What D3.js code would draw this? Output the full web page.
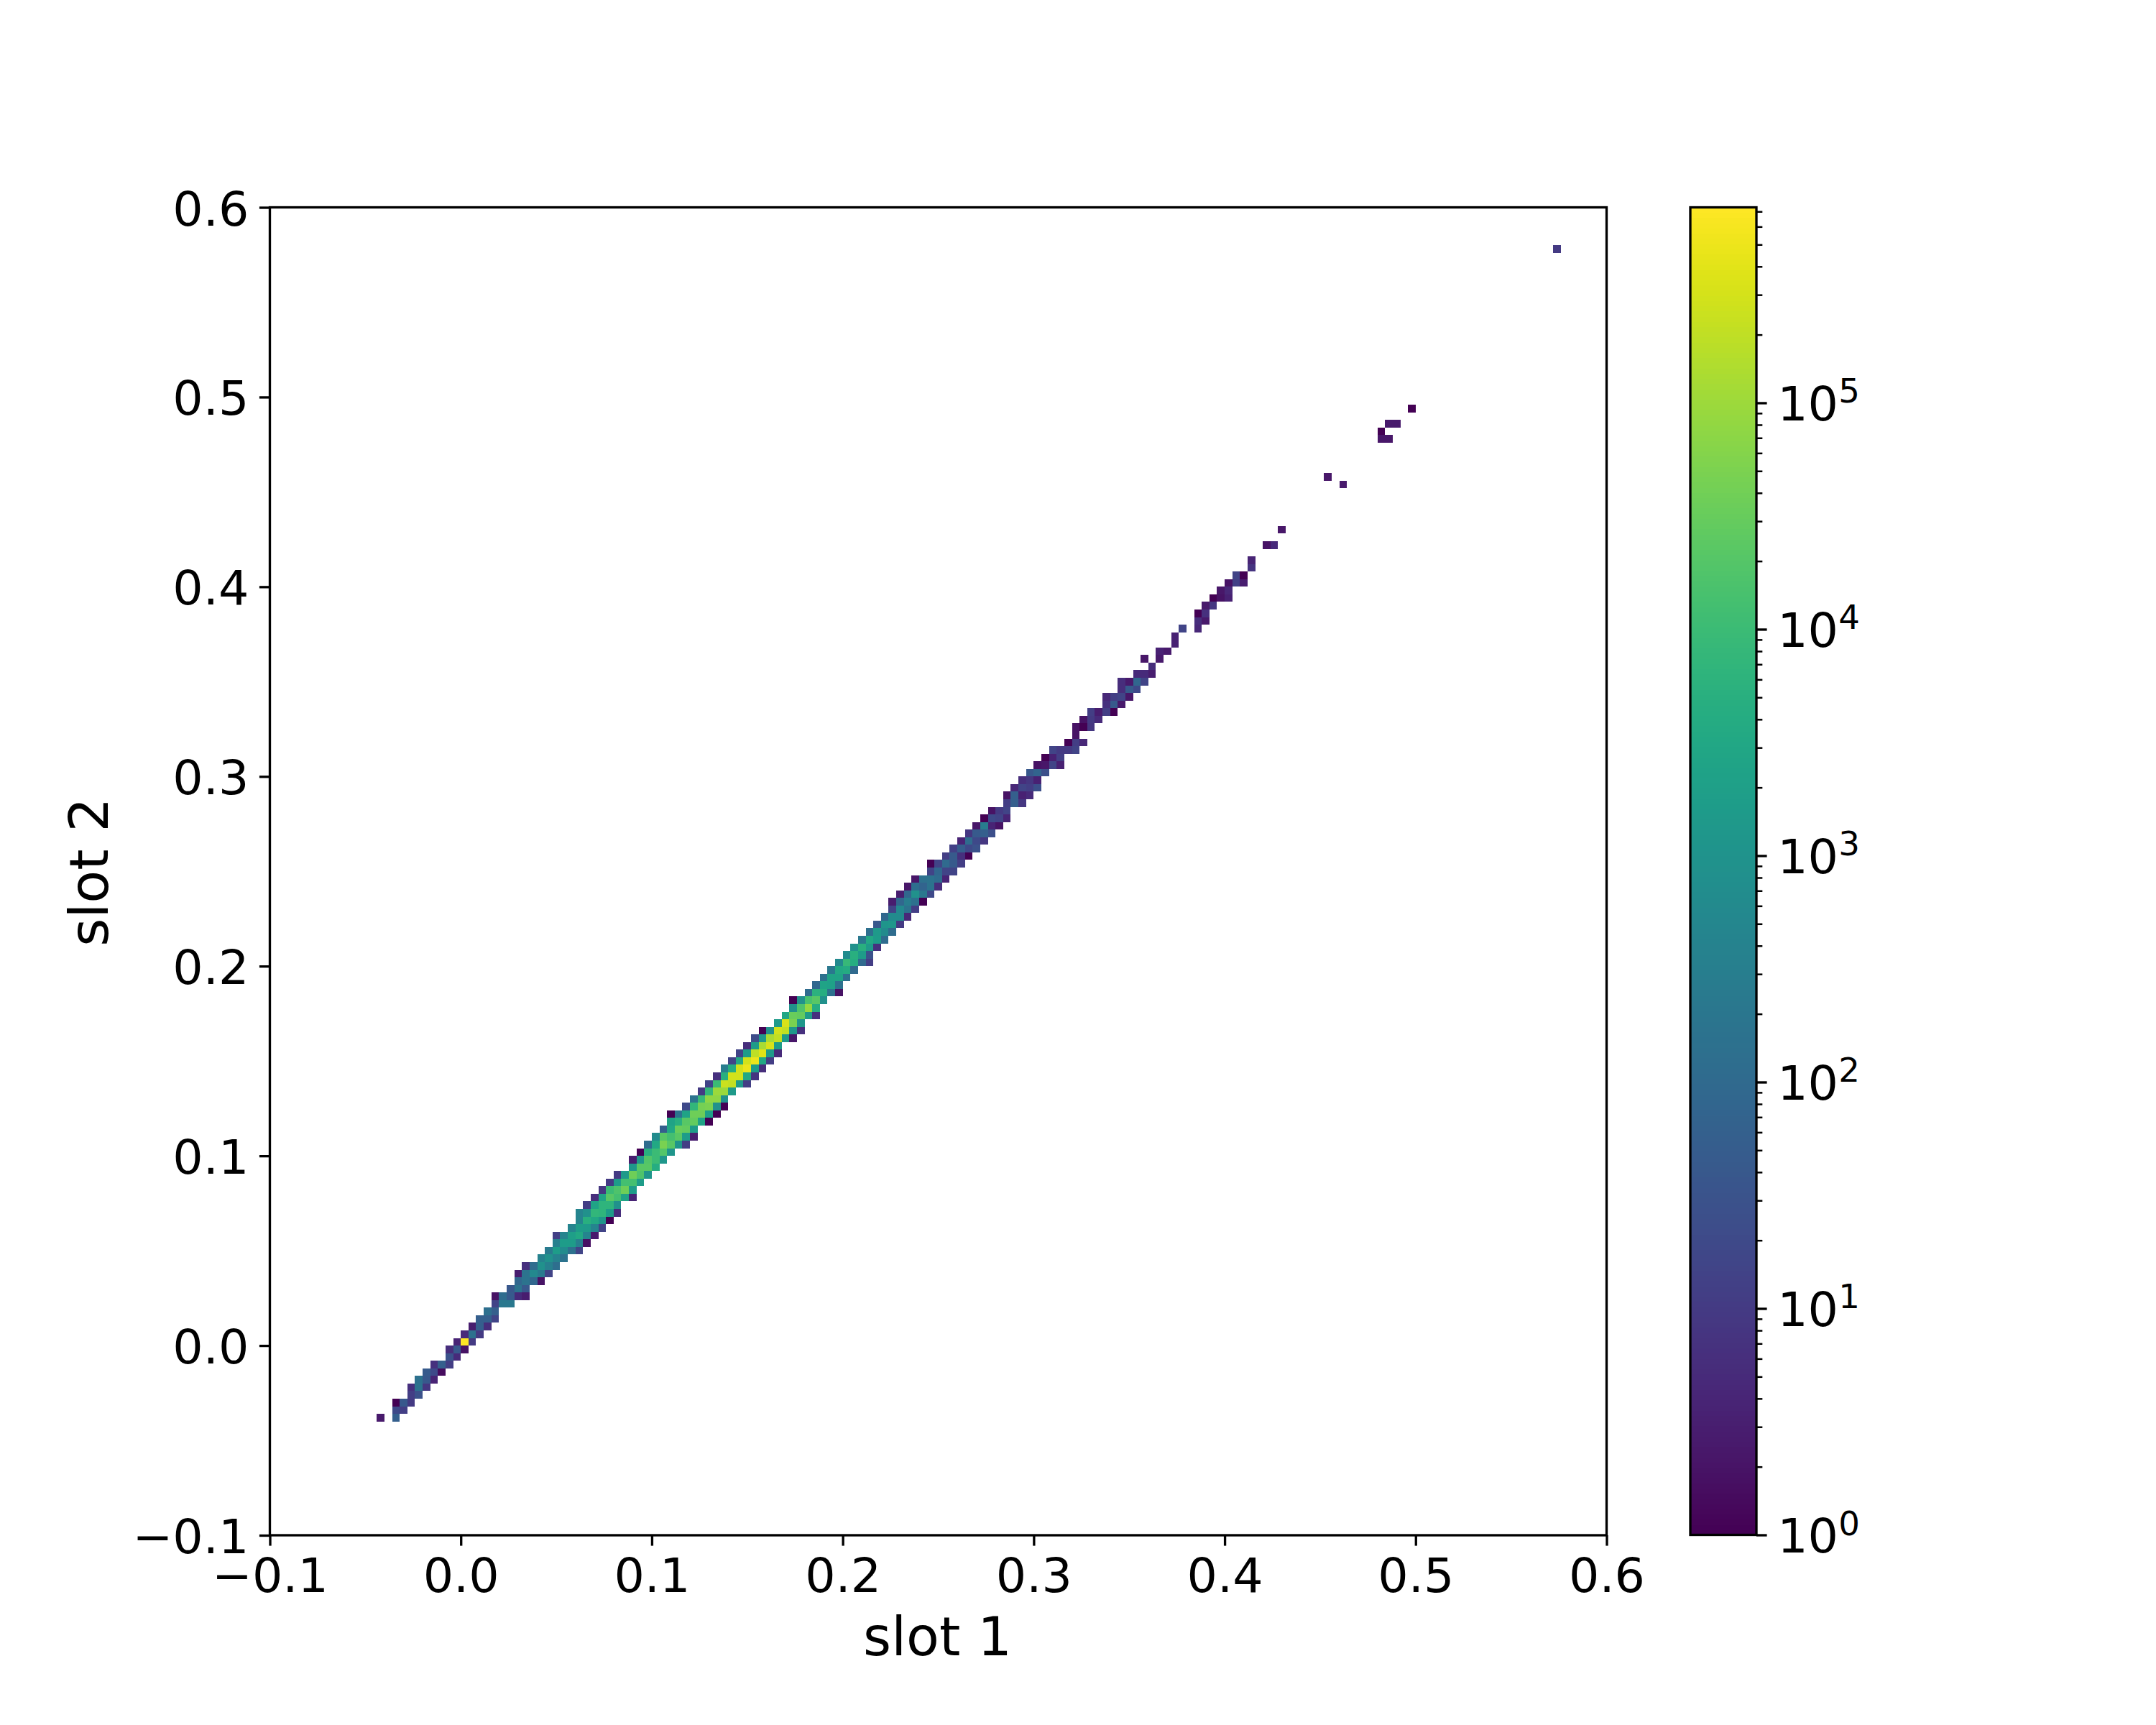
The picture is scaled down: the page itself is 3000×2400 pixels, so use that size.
<!DOCTYPE html>
<html><head><meta charset="utf-8">
<script src="https://cdn.jsdelivr.net/npm/d3@7"></script>
<style>html,body{margin:0;padding:0;background:#fff}svg{display:block}text{font-family:"DejaVu Sans";fill:#000}</style>
</head><body><svg id="c" width="3000" height="2400"></svg>
<script>
const xLabel = "slot 1", yLabel = "slot 2";
const axisTicks = [-0.1,0,0.1,0.2,0.3,0.4,0.5,0.6];
const cbarMajor = [1,1e1,1e2,1e3,1e4,1e5];
const cbarMax = 7.3e5;
const binWidth = 0.004;
// slot-2 bin index of each row
const binRowY = [-10,-9,-8,-7,-6,-5,-4,-3,-2,-1,0,1,2,3,4,5,6,7,8,9,10,11,12,13,14,15,16,17,18,19,20,21,22,23,24,25,26,27,28,29,30,31,32,33,34,35,36,37,38,39,40,41,42,43,44,45,46,47,48,49,50,51,52,53,54,55,56,57,58,59,60,61,62,63,64,65,66,67,68,69,70,71,72,73,74,75,76,77,78,79,80,81,82,83,84,85,86,87,88,89,90,91,92,93,94,95,96,97,98,99,100,101,102,103,105,107,113,114,119,120,121,123,144];
// slot-1 bin index of the first cell in each row
const binRowStartX = [-11,-9,-9,-7,-7,-6,-5,-4,-2,-2,-1,0,1,2,3,4,4,6,7,7,8,10,11,12,12,14,15,15,16,17,18,19,20,22,22,23,24,25,26,27,27,29,30,31,32,33,34,35,36,37,38,39,41,42,43,43,45,46,47,48,49,50,51,52,53,54,55,56,56,57,58,59,61,61,63,64,65,66,67,68,69,71,71,72,73,74,75,76,77,79,80,80,81,82,84,84,86,86,88,90,89,91,93,93,94,96,96,97,98,99,100,101,103,103,105,107,115,113,120,120,121,124,143];
// count of each cell, as percent of the way up the log colour axis (null = empty bin)
const binRowLevels = [
[7,null,30],[22,18],[0,27,17],[18,25],[14,38,16],[37,27,10],[28,22,3],[14,30,18],[25,12],[13,27,5],
[10,100,17],[12,37,17],[8,30,13],[30,30,20],[36,30],[20,40,40],[5,35,28,12,8],[27,38,27],[33,38,33,5],[8,38,47,41,20],
[14,35,50,43,36],[44,50,44,38],[41,55,48,37,20],[43,55,55,43,4],[19,45,56,60,45,7],[45,55,54,45,20],[45,63,60,52,0],[45,50,66,65,55,13],[18,58,65,65,50],[13,58,74,70,58,10],
[16,68,72,78,55],[17,55,70,70,55],[17,54,78,72,52],[53,74,74,62],[8,53,73,68,53],[0,63,68,73,52],[35,60,80,74,52,18],[48,74,70,74,55,8],[30,60,77,76,55],[58,63,74,76,58,0],
[0,38,58,78,78,57,0],[22,66,79,80,50,0],[38,67,83,83,50],[17,66,85,85,54],[20,68,92,91,54,18],[14,63,93,93,60,15],[42,62,93,97,55,13],[20,60,93,97,60,18],[20,55,90,95,54,12],[13,55,87,94,55],
[23,53,87,91,54,6],[0,50,93,91,53,14],[54,94,80,53],[59,77,76,55,14],[50,72,84,62],[0,50,71,74,50],[35,64,62,37,5],[33,58,57,37],[37,58,58,36],[40,60,61,34],
[47,67,62,34,18],[48,63,55,25],[50,63,54,14],[40,60,55,35],[36,54,48,35],[27,52,53,17],[33,48,48,11],[20,47,38,18],[8,33,42,37,0],[8,33,50,40,22],
[6,36,32,38,13],[6,37,38,35,10],[20,33,20,20],[0,20,34,28,18],[18,28,14,0],[19,29,22,25],[10,35,22,16],[16,28,30,24],[6,42,10,5],[0,22,20,10],
[5,17,20],[18,30,16],[5,30,9,12],[11,20,18,24],[13,16,9],[27,32,24],[5,6,20,9],[0,9,18],[20,17,17,20],[0,18,11],
[5],[5,0,16],[5,17,12],[18,8,18,0],[14,28,7],[11,18,20,6],[13,28,22],[13,7,33,20],[12,12,8],[13],
[6,null,7],[9,7],[9],[9],[20,null,11],[13,7],[0,14],[7,16],[0,5,9],[6,11],
[5,19,8],[20,0],[15],[10],[5,12],[6],[7],[6],[6,6],[0],[7,7],[0],[17]
];

const svg = d3.select("#c");
const L=375.5,R=2235.5,T=288.5,B=2136;
const CL=2352,CR=2444,CT=288.5,CB=2135.5;
const TICKFONT=66.67, LABELFONT=75, SPINE=3.33;
const x = d3.scaleLinear().domain([-0.1,0.6]).range([L,R]);
const y = d3.scaleLinear().domain([-0.1,0.6]).range([B,T]);
const logMax = Math.log10(cbarMax);
const colorPos = d3.scaleLog().domain([1,cbarMax]).range([0,1]);
const color = v => d3.interpolateViridis(colorPos(v));

const cells=[];
binRowY.forEach((iy,r)=>binRowLevels[r].forEach((lv,k)=>{
  if(lv===null) return;
  cells.push({ix:binRowStartX[r]+k, iy, count:Math.pow(10,lv/100*logMax)});
}));
svg.append("g").attr("shape-rendering","crispEdges").selectAll("rect").data(cells).join("rect")
  .attr("x",d=>x(d.ix*binWidth))
  .attr("width",d=>x((d.ix+1)*binWidth)-x(d.ix*binWidth))
  .attr("y",d=>y((d.iy+1)*binWidth))
  .attr("height",d=>y(d.iy*binWidth)-y((d.iy+1)*binWidth))
  .attr("fill",d=>color(d.count));

const fmt = d=>d3.format(".1f")(d).replace("-","\u2212");
const gx = svg.append("g").attr("transform",`translate(0,${B})`)
  .call(d3.axisBottom(x).tickValues(axisTicks).tickFormat(fmt).tickSize(14.6).tickPadding(14.6));
const gy = svg.append("g").attr("transform",`translate(${L},0)`)
  .call(d3.axisLeft(y).tickValues(axisTicks).tickFormat(fmt).tickSize(14.6).tickPadding(14.6));
[gx,gy].forEach(g=>{
  g.select(".domain").remove();
  g.selectAll("line").attr("stroke","#000").attr("stroke-width",SPINE);
  g.selectAll("text").attr("font-size",TICKFONT).attr("font-family","DejaVu Sans").attr("fill","#000");
});
gx.selectAll("text").attr("dy",null).attr("y",null).attr("dominant-baseline",null).attr("transform",`translate(0,${79})`).attr("y",0);
gy.selectAll("text").attr("dy",null).attr("y",24.5);
svg.append("rect").attr("x",L).attr("y",T).attr("width",R-L).attr("height",B-T)
  .attr("fill","none").attr("stroke","#000").attr("stroke-width",SPINE);

svg.append("text").text(xLabel).attr("x",(L+R)/2-1).attr("y",2302.5).attr("text-anchor","middle").attr("font-size",LABELFONT);
svg.append("text").text(yLabel).attr("transform",`translate(150,${(T+B)/2+1}) rotate(-90)`).attr("text-anchor","middle").attr("font-size",LABELFONT);

// colorbar
const cy = d3.scaleLog().domain([1,cbarMax]).range([CB,CT]);
const steps = d3.range(256);
svg.append("g").attr("shape-rendering","crispEdges").selectAll("rect").data(steps).join("rect")
  .attr("x",CL).attr("width",CR-CL)
  .attr("y",i=>CB-(i+1)/256*(CB-CT)-0.5).attr("height",(CB-CT)/256+1)
  .attr("fill",i=>d3.interpolateViridis((i+0.5)/256));
const minor=[];
for(let e=0;e<=5;e++) for(let m=2;m<=9;m++){const v=m*Math.pow(10,e); if(v<=cbarMax) minor.push(v);}
svg.append("g").attr("transform",`translate(${CR},0)`)
  .call(d3.axisRight(cy).tickValues(minor).tickFormat("").tickSize(8.33))
  .call(g=>{g.select(".domain").remove();g.selectAll("line").attr("stroke","#000").attr("stroke-width",2.5);});
const gc = svg.append("g").attr("transform",`translate(${CR},0)`)
  .call(d3.axisRight(cy).tickValues(cbarMajor).tickFormat("").tickSize(14.6));
gc.select(".domain").remove();
gc.selectAll("line").attr("stroke","#000").attr("stroke-width",SPINE);
gc.selectAll("text").remove();
const lab = svg.append("g").selectAll("g").data(cbarMajor).join("g").attr("transform",d=>`translate(${CR+29.2},${cy(d)})`);
lab.append("text").text("10").attr("x",0).attr("y",24.5).attr("font-size",TICKFONT);
lab.append("text").text(d=>Math.round(Math.log10(d))).attr("x",85).attr("y",0).attr("font-size",46.67);
svg.append("rect").attr("x",CL).attr("y",CT).attr("width",CR-CL).attr("height",CB-CT)
  .attr("fill","none").attr("stroke","#000").attr("stroke-width",SPINE);
</script></body></html>
